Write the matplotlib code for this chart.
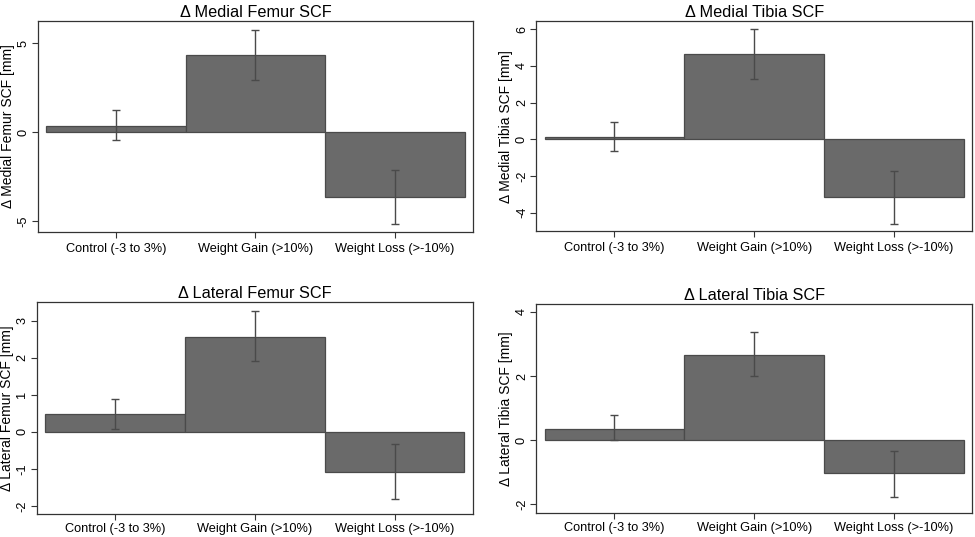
import matplotlib
matplotlib.use("Agg")
import matplotlib.pyplot as plt

plt.rcParams['font.family'] = ['Liberation Sans', 'DejaVu Sans']

categories = ["Control (-3 to 3%)", "Weight Gain (>10%)", "Weight Loss (>-10%)"]

titles = ["Δ Medial Femur SCF", "Δ Medial Tibia SCF",
          "Δ Lateral Femur SCF", "Δ Lateral Tibia SCF"]
ylabels = ["Δ Medial Femur SCF [mm]", "Δ Medial Tibia SCF [mm]",
           "Δ Lateral Femur SCF [mm]", "Δ Lateral Tibia SCF [mm]"]

medial_femur = [0.34, 4.31, -3.65]
medial_femur_lo = [-0.45, 2.90, -5.19]
medial_femur_hi = [1.24, 5.75, -2.15]

medial_tibia = [0.13, 4.64, -3.15]
medial_tibia_lo = [-0.64, 3.30, -4.64]
medial_tibia_hi = [0.95, 6.00, -1.73]

lateral_femur = [0.47, 2.57, -1.07]
lateral_femur_lo = [0.08, 1.91, -1.82]
lateral_femur_hi = [0.88, 3.26, -0.34]

lateral_tibia = [0.36, 2.65, -1.01]
lateral_tibia_lo = [0.00, 2.00, -1.77]
lateral_tibia_hi = [0.78, 3.36, -0.32]

yticks = [[-5, 0, 5], [-4, -2, 0, 2, 4, 6], [-2, -1, 0, 1, 2, 3], [-2, 0, 2, 4]]
ylims = [(-5.62, 6.24), (-5.0, 6.42), (-2.23, 3.5), (-2.26, 4.23)]

data = [(medial_femur, medial_femur_lo, medial_femur_hi),
        (medial_tibia, medial_tibia_lo, medial_tibia_hi),
        (lateral_femur, lateral_femur_lo, lateral_femur_hi),
        (lateral_tibia, lateral_tibia_lo, lateral_tibia_hi)]

positions = [
    [0.039, 0.568, 0.446, 0.393],
    [0.550, 0.570, 0.447, 0.390],
    [0.0376, 0.042, 0.4474, 0.395],
    [0.550, 0.045, 0.447, 0.388],
]
xpads = [4, 4, 2.5, 2.5]

fig = plt.figure(figsize=(9.75, 5.37), dpi=100)
x = list(range(len(categories)))
for i in range(4):
    ax = fig.add_axes(positions[i])
    vals, lo, hi = data[i]
    ax.bar(x, vals, width=1.0, color="#6a6a6a", edgecolor="#4a4a4a", linewidth=0.9, zorder=2)
    yerr = [[v - l for v, l in zip(vals, lo)], [h - v for v, h in zip(vals, hi)]]
    ax.errorbar(x, vals, yerr=yerr, fmt="none", ecolor="#4a4a4a", elinewidth=1.0,
                capsize=3, capthick=1.0, zorder=3)
    ax.set_xlim(-0.56, 2.56)
    ax.set_ylim(*ylims[i])
    ax.set_xticks(x)
    ax.set_xticklabels(categories, fontsize=9.2)
    ax.set_yticks(yticks[i])
    ax.set_yticklabels([str(t) for t in yticks[i]], rotation=90, va="center", fontsize=9.2)
    ax.set_ylabel(ylabels[i], fontsize=10, labelpad=2)
    ax.set_title(titles[i], fontsize=11.7, pad=3)
    for s in ax.spines.values():
        s.set_color("#333333")
        s.set_linewidth(0.9)
    ax.tick_params(axis="both", direction="out", length=4, width=0.8, color="#333333", pad=2)
    ax.tick_params(axis="x", pad=xpads[i])

fig.savefig("out.png", dpi=100)
